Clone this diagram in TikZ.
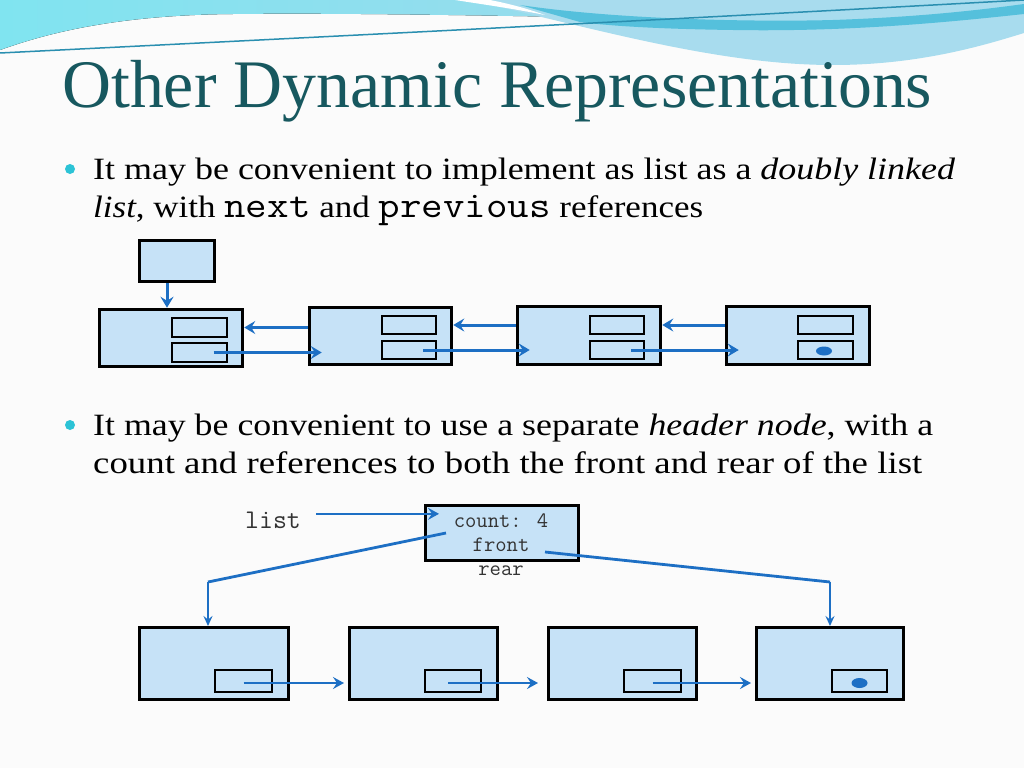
\documentclass[tikz,border=0pt]{standalone}
\usepackage{fontspec}
\setmainfont{Liberation Serif}
\usetikzlibrary{arrows.meta,fit}
\definecolor{bg}{HTML}{FBFBFB}
\definecolor{titlec}{HTML}{17585F}
\definecolor{nodefill}{HTML}{C6E2F7}
\definecolor{arr}{HTML}{1D6FC4}
\definecolor{bul}{HTML}{2CC3D6}
\definecolor{bandL}{HTML}{80E4F0}
\definecolor{bandR}{HTML}{A9D6EA}
\definecolor{swoosh}{HTML}{A8DCEE}
\definecolor{darkband}{HTML}{55C0DC}
\definecolor{thinline}{HTML}{2A8FB0}
\definecolor{mono}{HTML}{333333}
\newsavebox\fitbox
\newlength\fitlen
\newcommand\fitw[2]{\sbox\fitbox{#2}\setlength\fitlen{\wd\fitbox}\pgfmathsetmacro\fitf{#1/\fitlen}\scalebox{\fitf}[1]{\usebox\fitbox}}
\newcommand\mycode[1]{{\ttfamily\fontsize{37}{37}\selectfont #1}}
\tikzset{
  bigbox/.style={draw=black, line width=3.5pt, fill=nodefill, inner sep=0pt},
  field/.style={draw=black, line width=1.6pt, fill=nodefill, inner sep=0pt},
  fieldb/.style={draw=black, line width=2.6pt, fill=nodefill, inner sep=0pt},
  link/.style={draw=arr, line width=3pt, -{Stealth[length=11pt,width=13pt,inset=4pt]}},
  linkb/.style={draw=arr, line width=2.6pt, -{Stealth[length=11pt,width=12pt,inset=4pt]}},
  thinlink/.style={draw=arr, line width=1.6pt, -{Stealth[length=10pt,width=9pt,inset=3.5pt]}},
  slant/.style={draw=arr, line width=2.8pt},
  bodyline/.style={anchor=base west, inner sep=0pt, text=black, font=\fontsize{31}{36}\selectfont},
  monotext/.style={inner sep=0pt, text=mono, font=\ttfamily\fontsize{22}{24}\selectfont},
  bullet/.style={circle, fill=bul, inner sep=0pt, minimum size=10pt}
}
\begin{document}
\begin{tikzpicture}[x=1pt,y=-1pt]
\useasboundingbox (0,0) rectangle (1024,768);
\fill[bg] (0,0) rectangle (1024,768);
% top decoration
\fill[left color=bandL, right color=bandR] (0,0) -- (0,50) .. controls (50,32) and (120,15) .. (233,14) .. controls (400,12) and (700,20) .. (1024,26) -- (1024,0) -- cycle;
\fill[swoosh] (470,0) .. controls (600,30) and (720,65) .. (833,65) .. controls (920,65) and (985,45) .. (1024,33) -- (1024,0) -- cycle;
\fill[darkband] (520,5) .. controls (620,20) and (760,22) .. (833,20) .. controls (920,17) and (980,10) .. (1024,4) -- (1024,14) .. controls (950,22) and (850,32) .. (733,30) .. controls (660,29) and (610,26) .. (580,22) -- cycle;
\fill[white] (455,0) .. controls (480,4) and (510,8) .. (545,15) .. controls (520,6) and (500,2) .. (490,0) -- cycle;
\draw[thinline, line width=1.5pt] (0,53) .. controls (300,38) and (700,18) .. (1024,0);
% title
\node[anchor=base west, inner sep=0pt, text=titlec] (title) at (62,107) {\fontsize{68}{80}\selectfont\fitw{870pt}{Other Dynamic Representations}};
% bullets and text
\node[bullet] (b1) at (70,169) {};
\node[bodyline] (t1) at (93,179) {\fitw{862pt}{It may be convenient to implement as list as a \textit{doubly linked}}};
\node[bodyline] (t2) at (93,217) {\fitw{610pt}{\textit{list}, with \mycode{next} and \mycode{previous} references}};
\node[bullet] (b2) at (70,425) {};
\node[bodyline] (t3) at (93,435) {\fitw{840pt}{It may be convenient to use a separate \textit{header node}, with a}};
\node[bodyline] (t4) at (93,473) {\fitw{829pt}{count and references to both the front and rear of the list}};
% diagram 1
\node[bigbox, fit={(139.5,240.5) (214.5,281.5)}] (top) {};
\node[bigbox, fit={(99.5,309.5) (242.5,366.5)}] (n1) {};
\node[bigbox, fit={(309.5,307.5) (451.5,364.5)}] (n2) {};
\node[bigbox, fit={(517.5,306.5) (660.5,364.5)}] (n3) {};
\node[bigbox, fit={(726.5,306.5) (869.5,364.5)}] (n4) {};
\node[field, fit={(172,318) (227,337)}] (n1a) {};
\node[field, fit={(172,343) (227,362)}] (n1b) {};
\node[field, fit={(382,316) (436,334)}] (n2a) {};
\node[field, fit={(382,341) (436,359)}] (n2b) {};
\node[field, fit={(590,316) (644,334)}] (n3a) {};
\node[field, fit={(590,341) (644,359)}] (n3b) {};
\node[field, fit={(798,316) (853,334)}] (n4a) {};
\node[field, fit={(798,341) (853,359)}] (n4b) {};
\draw[link] ([xshift=-10pt]top.south) -- ([xshift=-10pt]top.south |- n1.north);
\draw[link] ([xshift=14pt]n1b.center) -- ([xshift=14pt]n1b.center -| n2.west);
\draw[link] ([xshift=14pt]n2b.center) -- ([xshift=14pt]n2b.center -| n3.west);
\draw[link] ([xshift=14pt]n3b.center) -- ([xshift=14pt]n3b.center -| n4.west);
\draw[link] (n1a.center -| n2.west) -- (n1a.center -| n1.east);
\draw[link] (n2a.center -| n3.west) -- (n2a.center -| n2.east);
\draw[link] (n3a.center -| n4.west) -- (n3a.center -| n3.east);
\fill[arr] ([xshift=-1.5pt,yshift=-1pt]n4b.center) ellipse [x radius=8pt, y radius=4.5pt];
% diagram 2
\node[anchor=base west, inner sep=0pt, text=mono, font=\ttfamily\fontsize{27}{30}\selectfont] (lst) at (245,528) {list};
\node[bigbox, line width=3pt, fit={(425.5,505.5) (578.5,560.5)}] (hdr) {};
\node[monotext, anchor=base] (hc) at (501,527) {count: 4};
\node[monotext, anchor=base] (hf) at (501,551) {front};
\node[monotext, anchor=base] (hr) at (501,575) {rear};
\draw[linkb] ([xshift=15pt,yshift=6pt]lst.east) -- ([xshift=15pt,yshift=6pt]lst.east -| hdr.west);
\node[bigbox, line width=3pt, fit={(139.5,627.5) (288.5,699)}] (l1) {};
\node[bigbox, line width=3pt, fit={(349.5,627.5) (497.5,699)}] (l2) {};
\node[bigbox, line width=3pt, fit={(548.5,627.5) (696.5,699)}] (l3) {};
\node[bigbox, line width=3pt, fit={(756.5,627.5) (903.5,699)}] (l4) {};
\node[fieldb, fit={(215,670) (272,692)}] (l1f) {};
\node[fieldb, fit={(425,670) (481,692)}] (l2f) {};
\node[fieldb, fit={(624,670) (681,692)}] (l3f) {};
\node[fieldb, fit={(832,670) (887,692)}] (l4f) {};
\draw[linkb, shorten >=4pt] ([yshift=-2pt]l1f.center) -- ([yshift=-2pt]l1f.center -| l2.west);
\draw[linkb, shorten >=4pt] ([xshift=-5pt,yshift=-2pt]l2f.center) -- ([xshift=-5pt,yshift=-2pt]l2f.center -| l3.west);
\draw[linkb, shorten >=4pt] ([yshift=-2pt]l3f.center) -- ([yshift=-2pt]l3f.center -| l4.west);
\fill[arr] ([yshift=-2pt]l4f.center) ellipse [x radius=8pt, y radius=5pt];
\coordinate (fc) at (208,582);
\coordinate (rc) at (830,582);
\draw[slant] ([xshift=22pt]hdr.west) -- (fc);
\draw[thinlink] (fc) -- (fc |- l1.north);
\draw[slant] ([xshift=43pt,yshift=-19pt]hdr.center) -- (rc);
\draw[thinlink] (rc) -- (rc |- l4.north);
\end{tikzpicture}
\end{document}
